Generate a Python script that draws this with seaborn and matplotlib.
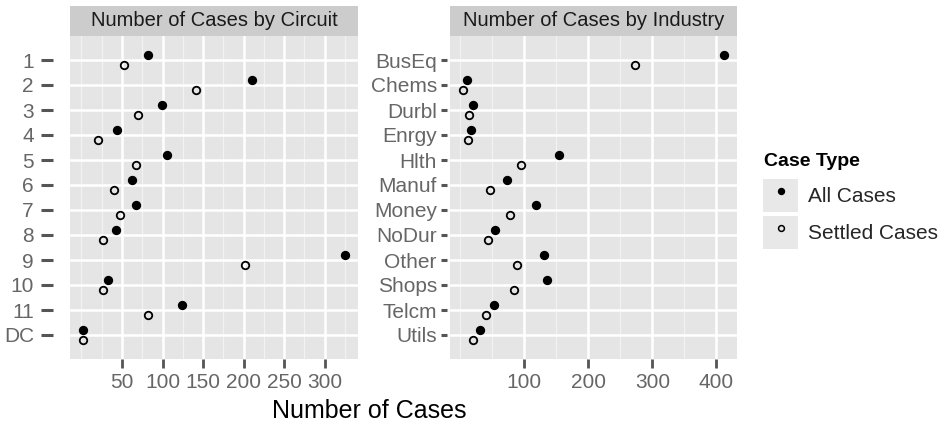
import numpy as np
import pandas as pd
import seaborn as sns
import matplotlib.pyplot as plt
from matplotlib.patches import Rectangle
from matplotlib.lines import Line2D
from matplotlib.legend_handler import HandlerTuple
from matplotlib.ticker import FixedLocator

# values
circuits = ["1", "2", "3", "4", "5", "6", "7", "8", "9", "10", "11", "DC"]
circuit_all = [82, 210, 99, 44, 105, 62, 67, 42, 325, 33, 124, 2]
circuit_settled = [52, 141, 70, 21, 67, 40, 47, 27, 202, 27, 82, 2]

industries = ["BusEq", "Chems", "Durbl", "Enrgy", "Hlth", "Manuf", "Money",
              "NoDur", "Other", "Shops", "Telcm", "Utils"]
industry_all = [412, 10, 20, 17, 154, 72, 118, 54, 130, 135, 53, 31]
industry_settled = [273, 4, 13, 11, 94, 46, 78, 43, 89, 84, 40, 20]

case_types = ["All Cases", "Settled Cases"]
type_colors = {"All Cases": "black", "Settled Cases": "none"}

circuit_major = [50, 100, 150, 200, 250, 300]
circuit_minor = [0, 25, 75, 125, 175, 225, 275, 325]
industry_major = [100, 200, 300, 400]
industry_minor = [0, 50, 150, 250, 350]


def long_df(groups, all_vals, settled_vals):
    return pd.DataFrame({
        "group": groups * 2,
        "cases": all_vals + settled_vals,
        "type": [case_types[0]] * len(groups) + [case_types[1]] * len(groups),
    })


sns.set_style("darkgrid", {"axes.facecolor": "#E5E5E5", "grid.color": "white"})
plt.rcParams["font.family"] = ["Liberation Sans", "DejaVu Sans"]

W, H = 953, 430
fig = plt.figure(figsize=(W / 100, H / 100), dpi=100)
fig.patch.set_facecolor("white")

PANEL_TOP, PANEL_BOT = 36, 359
STRIP_H = 30


def draw_panel(left_px, right_px, df, order, title, major, minor, gap, tick_len, label_pad):
    ax = fig.add_axes([left_px / W, 1 - PANEL_BOT / H,
                       (right_px - left_px) / W, (PANEL_BOT - PANEL_TOP) / H])
    sns.stripplot(data=df, x="cases", y="group", hue="type", order=order,
                  hue_order=case_types, palette=type_colors, dodge=True, jitter=False,
                  size=5.4, edgecolor="black", linewidth=1.3, legend=False, ax=ax,
                  zorder=3)
    lo, hi = df["cases"].min(), df["cases"].max()
    pad = 0.05 * (hi - lo)
    ax.set_xlim(lo - pad, hi + pad)
    n = len(order)
    ax.set_ylim(n - 1 + 0.96, -0.96)

    ax.set_xticks(major)
    ax.xaxis.set_minor_locator(FixedLocator(minor))
    ax.grid(False)
    ax.grid(which="minor", axis="x", color="#F2F2F2", lw=0.9, zorder=0)
    ax.grid(which="major", axis="both", color="white", lw=1.8, zorder=1)
    ax.set_axisbelow(True)

    for s in ax.spines.values():
        s.set_visible(False)
    ax.spines["left"].set_position(("outward", gap))
    ax.tick_params(axis="y", which="major", length=tick_len, width=2.2,
                   color="#555555", labelsize=15, labelcolor="#666666", pad=label_pad, left=True)
    ax.tick_params(axis="x", which="major", length=6.5, width=2.0,
                   color="#555555", labelsize=15, labelcolor="#666666", pad=3.5, bottom=True)
    ax.tick_params(which="minor", length=0)
    ax.set_xlabel("")
    ax.set_ylabel("")

    ax.add_patch(Rectangle((0, 1), 1, STRIP_H / (PANEL_BOT - PANEL_TOP),
                           transform=ax.transAxes, clip_on=False,
                           facecolor="#CCCCCC", edgecolor="none"))
    ax.text(0.5, 1 + STRIP_H / 2 / (PANEL_BOT - PANEL_TOP), title,
            transform=ax.transAxes, ha="center", va="center",
            fontsize=14.5, color="#1A1A1A")
    return ax


draw_panel(70, 358, long_df(circuits, circuit_all, circuit_settled), circuits,
           "Number of Cases by Circuit", circuit_major, circuit_minor, 12, 8.5, 5.5)
draw_panel(450, 737, long_df(industries, industry_all, industry_settled), industries,
           "Number of Cases by Industry", industry_major, industry_minor, 2, 4.5, 3)

fig.text(369 / W, 1 - 411 / H, "Number of Cases", ha="center", va="center",
         fontsize=18, color="black")

# legend: title drawn separately so the gap below it matches
fig.text(764 / W, 1 - 161 / H, "Case Type", ha="left", va="center",
         fontsize=14, fontweight="bold", color="black")
handles = [(Rectangle((0, 0), 1, 1, facecolor="#E8E8E8", edgecolor="none"),
            Line2D([], [], ls="none", marker="o", markersize=4.2,
                   markerfacecolor=type_colors[t], markeredgecolor="black",
                   markeredgewidth=1.1))
           for t in case_types]
leg = fig.legend(handles, case_types, handler_map={tuple: HandlerTuple(ndivide=1, pad=0)},
                 loc="upper left", bbox_to_anchor=(763 / W, 1 - 179 / H), frameon=False,
                 fontsize=15, handlelength=1.68, handleheight=2.06,
                 handletextpad=0.5, labelspacing=0.2, borderpad=0, borderaxespad=0)

fig.savefig("out.png", dpi=100)
